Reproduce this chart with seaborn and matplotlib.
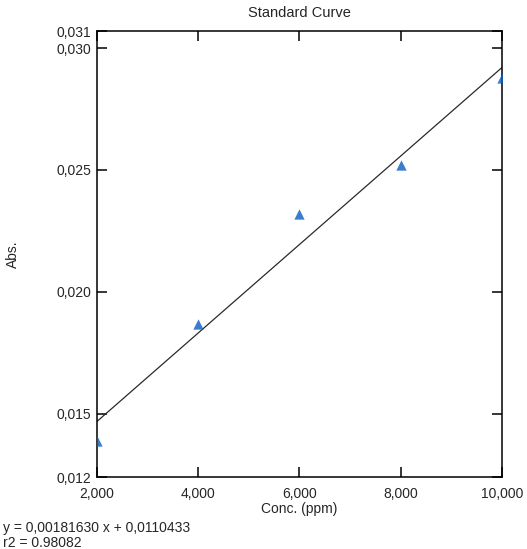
import numpy as np
import pandas as pd
import matplotlib
matplotlib.use("Agg")
import matplotlib.pyplot as plt
import seaborn as sns
from matplotlib.ticker import FuncFormatter

# ==========================
# Data
# ==========================

conc = [2, 4, 6, 8, 10]
absorb = [0.01388, 0.01866, 0.02320, 0.02521, 0.02876]

x_ticks = [2, 4, 6, 8, 10]
y_ticks = [0.0124, 0.015, 0.020, 0.025, 0.030, 0.0307]
y_labels = ["0,012", "0,015", "0,020", "0,025", "0,030", "0,031"]

fit_text = "y = 0,00181630 x + 0,0110433"
r2_text = "r2 = 0.98082"

df = pd.DataFrame({"Conc": conc, "Abs": absorb})

# ==========================
# Plot
# ==========================

sns.set_style("ticks")
plt.rcParams["font.family"] = ["Liberation Sans", "DejaVu Sans"]
plt.rcParams["font.size"] = 10

fig = plt.figure(figsize=(5.27, 5.49), dpi=100)
ax = fig.add_axes([0.184, 0.1311, 0.7686, 0.8124])

sns.regplot(
    data=df,
    x="Conc",
    y="Abs",
    ci=None,
    marker="^",
    scatter_kws={"s": 55, "color": "#0a5cc0", "linewidths": 0, "zorder": 3},
    line_kws={"color": "#2a2a2a", "linewidth": 0.9},
    ax=ax
)

ax.set_xlim(2, 10)
ax.set_ylim(y_ticks[0], y_ticks[-1])
ax.set_xticks(x_ticks)
ax.set_yticks(y_ticks)
ax.set_yticklabels(y_labels)
ax.xaxis.set_major_formatter(FuncFormatter(lambda v, p: f"{v:,.3f}".replace(".", ",")))

for s in ax.spines.values():
    s.set_visible(True)
    s.set_linewidth(1.1)
    s.set_color("black")

ax.tick_params(direction="in", length=7, width=1.1, color="black",
               top=True, right=True, labelsize=10, pad=4)
ax.tick_params(axis="x", pad=7)

ax.set_title("Standard Curve", fontsize=10.5, pad=10)
ax.set_xlabel("Conc. (ppm)", fontsize=10, labelpad=1)
ax.set_ylabel("Abs.", fontsize=10)
ax.yaxis.set_label_coords(-0.19, 0.5)

fig.text(3 / 527, 1 - 528 / 549, fit_text, fontsize=10, va="center", ha="left")
fig.text(3 / 527, 1 - 543 / 549, r2_text, fontsize=10, va="center", ha="left")

fig.savefig("out.png", dpi=100)
